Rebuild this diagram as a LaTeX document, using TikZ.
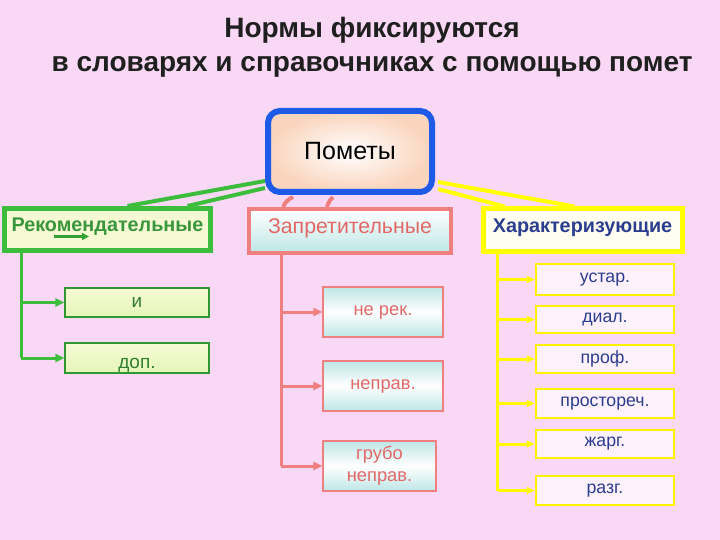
\documentclass[tikz,border=0pt]{standalone}
\usepackage{fontspec}
\setmainfont{Liberation Sans}
\usetikzlibrary{arrows.meta,calc,backgrounds}
\definecolor{bgpink}{RGB}{249,216,245}
\definecolor{grn}{RGB}{60,190,60}
\definecolor{grntxt}{RGB}{58,150,58}
\definecolor{sal}{RGB}{240,128,128}
\definecolor{saltxt}{RGB}{226,104,104}
\definecolor{yel}{RGB}{255,255,0}
\definecolor{blu}{RGB}{30,90,232}
\definecolor{navy}{RGB}{43,61,143}
\definecolor{peach}{RGB}{250,212,188}
\definecolor{cyanish}{RGB}{190,230,230}
\definecolor{gfill}{RGB}{246,250,212}
\definecolor{gfilllo}{RGB}{228,246,184}
\definecolor{yfill}{RGB}{253,241,251}
\pgfdeclarelayer{bglayer}
\pgfdeclarelayer{back}
\pgfsetlayers{bglayer,back,main}
\tikzset{
  hdr/.style={rectangle, inner sep=0pt, align=center},
  gchild/.style={rectangle, draw=grn!80!black, line width=1.2pt, top color=gfill, bottom color=gfilllo,
     minimum width=144pt, font=\fontsize{19}{21}\selectfont, text=grntxt!85!black, inner sep=0pt},
  schild/.style={rectangle, draw=sal, line width=1.4pt, top color=cyanish, bottom color=cyanish, middle color=white,
     minimum height=50pt, font=\fontsize{18.3}{22}\selectfont, text=saltxt, inner sep=0pt, align=center},
  ychild/.style={rectangle, draw=yel!90!orange, line width=2.5pt, fill=yfill,
     minimum width=138pt, font=\fontsize{17.7}{20}\selectfont, text=navy, inner sep=0pt},
  garr/.style={draw=grn, line width=3pt, -{Triangle[length=9pt,width=8pt]}},
  sarr/.style={draw=sal, line width=3pt, -{Triangle[length=9pt,width=8pt]}},
  yarr/.style={draw=yel!95!orange, line width=3pt, -{Triangle[length=8pt,width=7pt]}},
}
\begin{document}
\begin{tikzpicture}[x=1pt,y=-1pt]
\begin{pgfonlayer}{bglayer}
\fill[bgpink] (0,0) rectangle (720,540);
\end{pgfonlayer}
\useasboundingbox (0,0) rectangle (720,540);

% title
\node[align=center, font=\bfseries\fontsize{28}{34}\selectfont, text=black!88] (title) at (372,47)
  {Нормы фиксируются\\в словарях и справочниках с помощью помет};

% main box
\node[hdr, draw=blu, line width=6pt, rounded corners=12pt, minimum width=164pt, minimum height=81pt,
  shading=radial, inner color=white, outer color=peach, font=\fontsize{25}{28}\selectfont] (pom) at (350,151.5) {Пометы};

% category boxes
\node[hdr, draw=grn, line width=5pt, fill=gfill, minimum width=206pt, minimum height=42pt,
  font=\bfseries\fontsize{19.8}{22}\selectfont, text=grntxt, text depth=9pt] (rec) at (107.5,229.5) {Рекомендательные};
\node[hdr, draw=sal, line width=4pt, top color=white, bottom color=cyanish, minimum width=202pt, minimum height=44pt,
  font=\fontsize{21.3}{24}\selectfont, text=saltxt, text depth=9pt] (zap) at (350,231) {Запретительные};
\node[hdr, draw=yel, line width=5pt, fill=yellow!6!white, minimum width=199pt, minimum height=42pt,
  font=\bfseries\fontsize{19.8}{22}\selectfont, text=navy, text depth=9pt] (kh) at (582.5,230) {Характеризующие};

% small arrow inside Рекомендательные
\draw[draw=grn!85!black, line width=3pt, -{Triangle[length=7pt,width=7pt]}] ($(rec.west)+(52,7)$) -- ($(rec.west)+(87,7)$);

% connectors from main box
\begin{pgfonlayer}{back}
\draw[grn, line width=4pt] ($(pom.south west)+(0,-14)$) -- ($(rec.north)+(20,0)$);
\draw[grn, line width=4pt] ($(pom.south west)+(0,-7)$) -- ($(rec.north)+(80,0)$);
\draw[sal, line width=4pt] ($(pom.south)+(-57,2)$) to[bend right=20] ($(zap.north)+(-67,0)$);
\draw[sal, line width=4pt] ($(pom.south)+(-17,2)$) to[bend right=15] ($(zap.north)+(-23,0)$);
\draw[yel, line width=4pt] ($(pom.south east)+(3,-13)$) -- ($(kh.north)+(-8,0)$);
\draw[yel, line width=4pt] ($(pom.south east)+(3,-6)$) -- ($(kh.north)+(-78,0)$);
\end{pgfonlayer}

% green children
\node[gchild, minimum height=29pt] (gi) at (137,302.5) {и};
\node[gchild, minimum height=30pt] (gdop) at (137,358) {\raisebox{-10pt}[0pt][0pt]{доп.}};
\coordinate (gsp) at ($(rec.south west)+(19,0)$);
\draw[grn, line width=3pt] (gsp) -- (gsp |- gdop.west);
\draw[garr] (gsp |- gi.west) -- (gi.west);
\draw[garr] (gsp |- gdop.west) -- (gdop.west);

% salmon children
\node[schild, minimum width=120pt] (s1) at (383,312) {не рек.};
\node[schild, minimum width=120pt] (s2) at (383,386) {неправ.};
\node[schild, minimum width=113pt] (s3) at (379.5,466) {грубо\\неправ.};
\coordinate (ssp) at ($(zap.south west)+(34,0)$);
\draw[sal, line width=3pt] (ssp) -- (ssp |- s3.west);
\draw[sarr] (ssp |- s1.west) -- (s1.west);
\draw[sarr] (ssp |- s2.west) -- (s2.west);
\draw[sarr] (ssp |- s3.west) -- (s3.west);

% yellow children
\node[ychild, minimum height=31pt] (y1) at (605,279.5) {устар.};
\node[ychild, minimum height=27pt] (y2) at (605,319.5) {диал.};
\node[ychild, minimum height=28pt] (y3) at (605,359) {проф.};
\node[ychild, minimum height=29pt] (y4) at (605,403.5) {простореч.};
\node[ychild, minimum height=28pt] (y5) at (605,444) {жарг.};
\node[ychild, minimum height=29pt] (y6) at (605,490.5) {разг.};
\coordinate (ysp) at ($(kh.south west)+(17,0)$);
\draw[yel!95!orange, line width=3pt] (ysp) -- (ysp |- y6.west);
\foreach \n in {y1,y2,y3,y4,y5,y6}{
  \draw[yarr] (ysp |- \n.west) -- (\n.west);
}
\end{tikzpicture}
\end{document}
